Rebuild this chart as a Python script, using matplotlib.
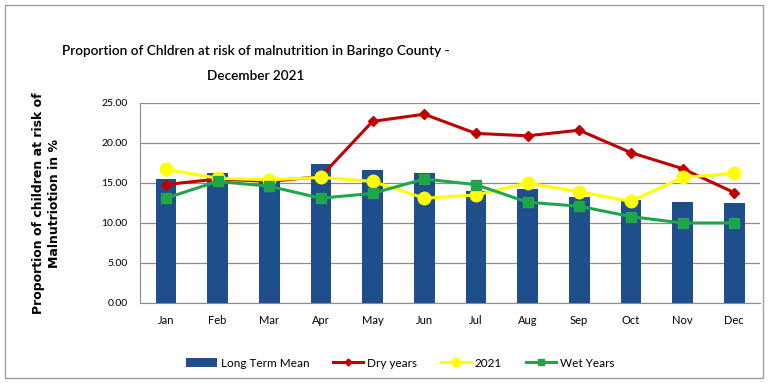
import matplotlib
matplotlib.use("Agg")
import matplotlib.pyplot as plt
from matplotlib.patches import Rectangle

months = ["Jan", "Feb", "Mar", "Apr", "May", "Jun", "Jul", "Aug", "Sep", "Oct", "Nov", "Dec"]
long_term_mean = [15.5, 16.2, 15.6, 17.4, 16.6, 16.3, 14.0, 14.2, 13.3, 12.9, 12.6, 12.5]
dry_years = [14.8, 15.5, 15.2, 15.8, 22.7, 23.6, 21.2, 20.9, 21.6, 18.8, 16.8, 13.8]
y2021 = [16.7, 15.6, 15.4, 15.7, 15.2, 13.1, 13.5, 15.0, 13.9, 12.7, 15.7, 16.2]
wet_years = [13.1, 15.2, 14.6, 13.1, 13.7, 15.5, 14.8, 12.6, 12.1, 10.8, 10.0, 10.0]
yticks = [0, 5, 10, 15, 20, 25]

plt.rcParams['font.family'] = ['Lato', 'DejaVu Sans']

fig = plt.figure(figsize=(7.68, 3.83), dpi=100)
fig.patches.append(Rectangle((0.006, 0.012), 0.988, 0.975, transform=fig.transFigure,
                             fill=False, edgecolor='#a0a0a0', linewidth=1.0))

ax = fig.add_axes([140/768, 1 - 303/383, 620/768, 200/383])
x = list(range(len(months)))

ax.bar(x, long_term_mean, width=0.4, color='#1f4e8c', label='Long Term Mean', zorder=2)
ax.plot(x, dry_years, color='#c00000', marker='D', markersize=5, linewidth=2.2,
        label='Dry years', zorder=3)
ax.plot(x, y2021, color='#ffff00', marker='o', markersize=9, linewidth=2.2,
        label='2021', zorder=4)
ax.plot(x, wet_years, color='#1fa64a', marker='s', markersize=7, linewidth=2.2,
        label='Wet Years', zorder=5)

ax.set_xlim(-0.5, len(months) - 0.5)
ax.set_ylim(0, 25)
ax.set_yticks(yticks)
ax.set_yticklabels([f"{v:.2f}" for v in yticks], fontsize=7.5)
ax.set_xticks(x)
ax.set_xticklabels(months, fontsize=8)
ax.tick_params(length=0, pad=9)
ax.yaxis.grid(True, color='#8c8c8c', linewidth=0.9, zorder=0)
ax.set_axisbelow(True)
for side in ['top', 'right']:
    ax.spines[side].set_visible(False)
for side in ['left', 'bottom']:
    ax.spines[side].set_color('#8c8c8c')

fig.text(256/768, 1 - 51/383, "Proportion of Chldren at risk of malnutrition in Baringo County -",
         ha='center', va='center', fontsize=9.8, fontweight='semibold')
fig.text(256/768, 1 - 76/383, "December 2021",
         ha='center', va='center', fontsize=9.8, fontweight='semibold')

fig.text(47/768, 1 - 203/383, "Proportion of children at risk of\nMalnutriotion in %",
         rotation=90, ha='center', va='center', fontsize=9, fontweight='bold',
         family=['DejaVu Sans'], linespacing=1.3)

handles, labels = ax.get_legend_handles_labels()
order = [labels.index(n) for n in ['Long Term Mean', 'Dry years', '2021', 'Wet Years']]
ax.legend([handles[i] for i in order], [labels[i] for i in order],
          loc='upper center', bbox_to_anchor=(0.42, -0.22), ncol=4, frameon=False,
          fontsize=8.5, handlelength=2.6, columnspacing=2.0, handletextpad=0.3,
          markerscale=0.7)

fig.savefig("out.png", dpi=100)
